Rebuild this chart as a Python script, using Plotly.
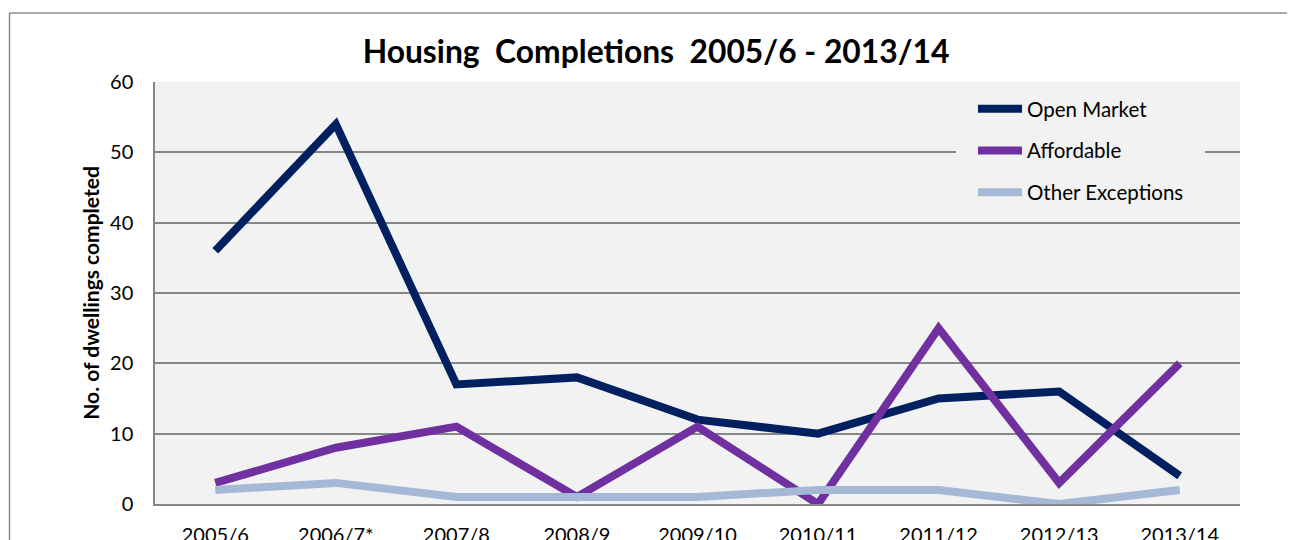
import plotly.graph_objects as go

categories = ["2005/6", "2006/7*", "2007/8", "2008/9", "2009/10", "2010/11", "2011/12", "2012/13", "2013/14"]
open_market = [36, 54, 17, 18, 12, 10, 15, 16, 4]
affordable = [3, 8, 11, 1, 11, 0, 25, 3, 20]
other_exceptions = [2, 3, 1, 1, 1, 2, 2, 0, 2]
y_ticks = [0, 10, 20, 30, 40, 50, 60]

FONT = "Lato"
fig = go.Figure()
series = [
    ("Open Market", open_market, "#002060"),
    ("Affordable", affordable, "#7030a0"),
    ("Other Exceptions", other_exceptions, "#a5b8d6"),
]
for i, (name, vals, col) in enumerate(series):
    fig.add_trace(go.Scatter(
        x=categories, y=vals, name=name, mode="lines",
        line=dict(color=col, width=8), legendgroup=f"g{i}",
        hoverinfo="skip",
    ))

# page body has an 8px margin, so the figure is offset by 8px
O = 8
W, H = 1295 - O, 540 - O
L, T, R, B = 155, 82, 1240, 504  # plot area in screen pixels
pw, ph = R - L, B - T

def px_x(p):
    return (p - L) / pw

def px_y(p):
    return (B - p) / ph

border = "#8c8c8c"
grid = "#868686"
fig.add_shape(type="line", xref="paper", yref="paper",
              x0=px_x(9.5), x1=px_x(1310), y0=px_y(13), y1=px_y(13),
              line=dict(color=border, width=1.5))
fig.add_shape(type="line", xref="paper", yref="paper",
              x0=px_x(9.5), x1=px_x(9.5), y0=px_y(13), y1=px_y(560),
              line=dict(color=border, width=1.5))
# legend panel background (covers gridlines like the reference)
fig.add_shape(type="rect", xref="paper", yref="paper",
              x0=px_x(956), x1=px_x(1205), y0=px_y(212), y1=px_y(83),
              fillcolor="#f2f2f2", line=dict(width=0), layer="above")

fig.update_layout(
    width=W, height=H,
    margin=dict(l=L - O, r=W - (R - O), t=T - O, b=H - (B - O), autoexpand=False),
    paper_bgcolor="white",
    plot_bgcolor="#f2f2f2",
    font=dict(family=FONT, color="black", size=20),
    title=dict(text="<b>Housing\u00a0 Completions\u00a0 2005/6 - 2013/14</b>",
               x=(656 - O) / W, xref="container", xanchor="center",
               y=1 - (52 - O) / H, yref="container", yanchor="middle",
               font=dict(family=FONT, size=31.8, color="black")),
    showlegend=True,
    legend=dict(x=px_x(973), y=px_y(89), xanchor="left", yanchor="top",
                xref="paper", yref="paper",
                bgcolor="rgba(0,0,0,0)", borderwidth=0,
                font=dict(family=FONT, size=20.5, color="black"),
                tracegroupgap=12, itemwidth=44),
    xaxis=dict(showgrid=False, ticks="outside", ticklen=12,
               range=[-0.5, 8.5], automargin=False,
               tickcolor="rgba(0,0,0,0)", showline=True,
               linecolor=grid, linewidth=1.5,
               tickfont=dict(family=FONT, size=20), fixedrange=True),
    yaxis=dict(range=[0, 60], tickvals=y_ticks, showgrid=True,
               gridcolor=grid, gridwidth=1.5, zeroline=False,
               showline=True, linecolor=grid, linewidth=1.5,
               ticks="outside", ticklen=16, tickcolor="rgba(0,0,0,0)",
               tickfont=dict(family=FONT, size=20), automargin=False,
               title=dict(text="<b>No. of dwellings completed</b>",
                          font=dict(family=FONT, size=21), standoff=5),
               fixedrange=True),
)

fig.write_html("out.html")
